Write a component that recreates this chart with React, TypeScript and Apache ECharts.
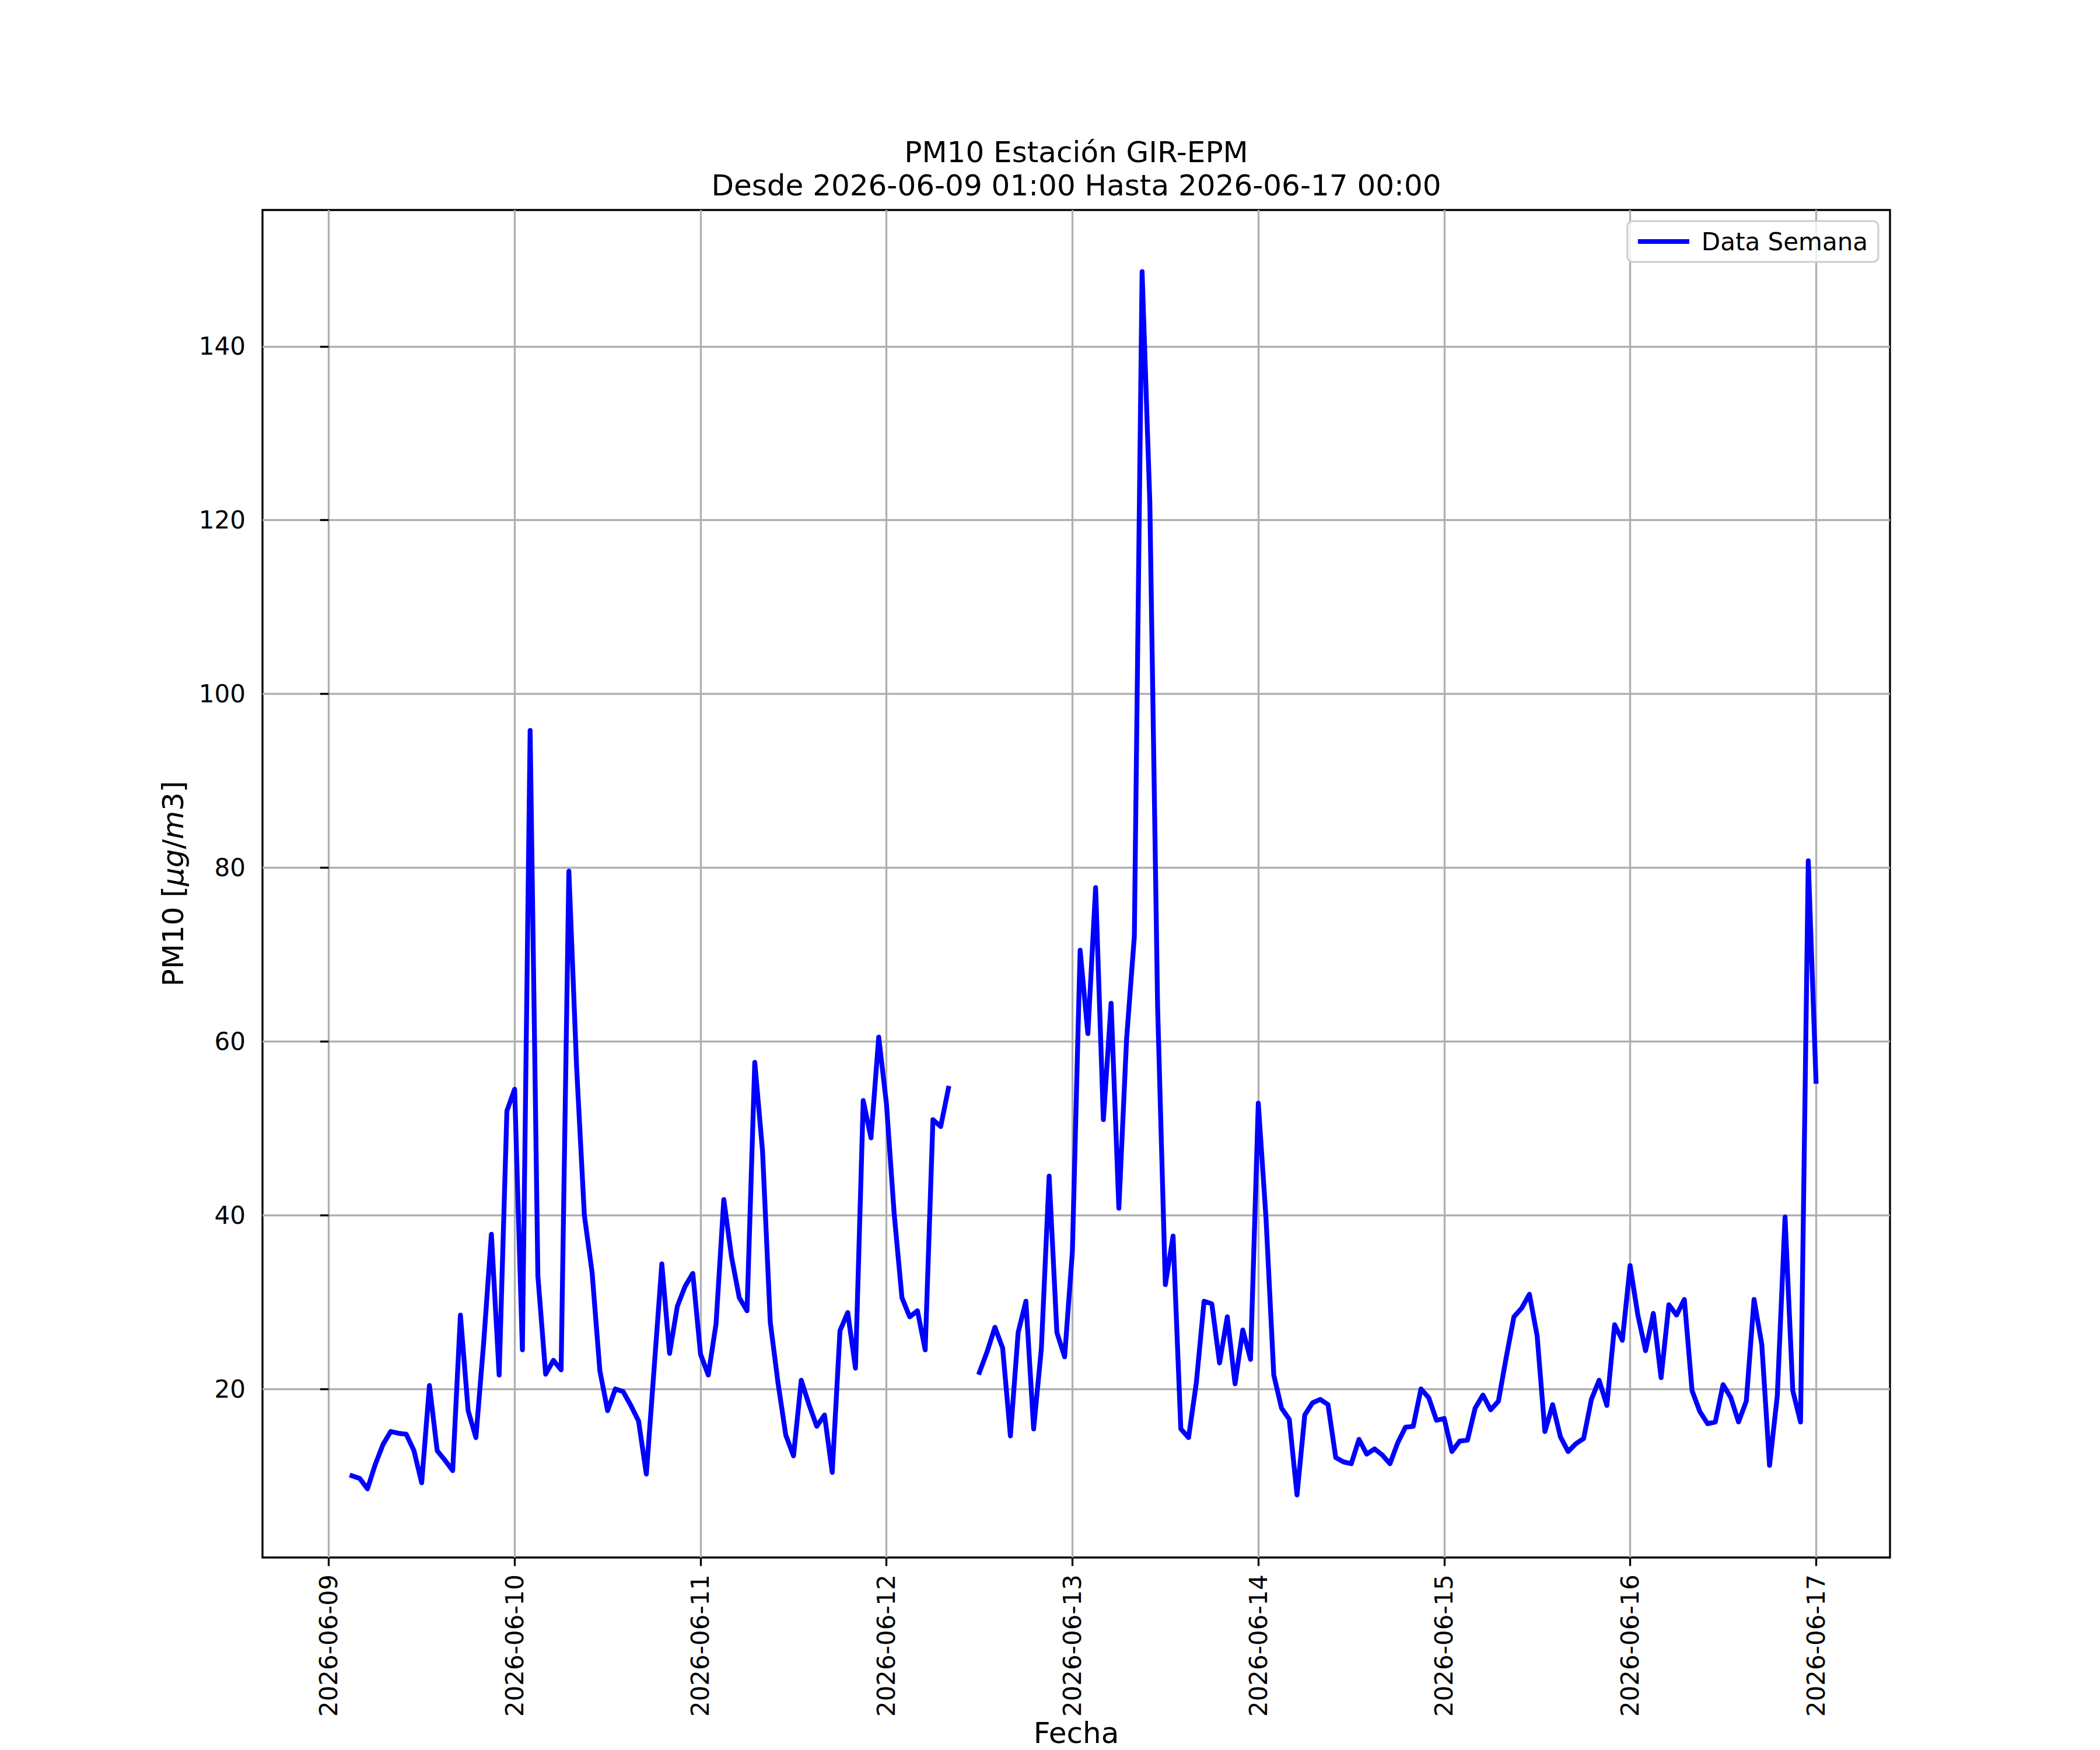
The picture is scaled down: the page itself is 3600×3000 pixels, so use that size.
import React, { useEffect, useRef } from "react";
import * as echarts from "echarts";

// Hourly PM10 values from 2026-06-09 01:00 to 2026-06-17 00:00 (null = missing)
const START_DATE = "2026-06-09";
const START_HOUR = 1;
const pm10Values: (number | null)[] = [
  // 2026-06-09 01:00 .. 23:00
  null, null, 10.0, 9.7, 8.5, 11.3, 13.6, 15.1, 14.9, 14.8, 12.9, 9.2, 20.4, 12.9, 11.8, 10.6, 28.5, 17.5, 14.4, 25.3, 37.8, 21.6, 52.0,
  // 2026-06-10
  54.5, 24.5, 95.8, 33.0, 21.7, 23.3, 22.2, 79.6, 57.0, 40.0, 33.4, 22.1, 17.5, 20.0, 19.7, 18.1, 16.3, 10.2, 22.3, 34.4, 24.1, 29.5, 31.8, 33.3,
  // 2026-06-11
  24.0, 21.6, 27.5, 41.8, 35.2, 30.5, 29.0, 57.6, 47.4, 27.7, 20.7, 14.7, 12.3, 21.0, 18.2, 15.7, 17.0, 10.4, 26.7, 28.8, 22.4, 53.2, 48.9, 60.5,
  // 2026-06-12
  52.8, 40.1, 30.5, 28.3, 29.0, 24.5, 51.0, 50.2, 54.6, null, null, null, 21.9, 24.3, 27.1, 24.7, 14.6, 26.5, 30.1, 15.4, 24.7, 44.5, 26.5, 23.7,
  // 2026-06-13
  35.8, 70.5, 60.9, 77.7, 51.0, 64.4, 40.8, 60.3, 72.1, 148.6, 122.0, 64.1, 32.0, 37.6, 15.4, 14.4, 20.7, 30.1, 29.8, 23.0, 28.3, 20.6, 26.8, 23.4,
  // 2026-06-14
  52.9, 39.6, 21.6, 17.8, 16.5, 7.8, 17.0, 18.4, 18.8, 18.2, 12.1, 11.6, 11.4, 14.2, 12.5, 13.1, 12.4, 11.4, 13.8, 15.6, 15.7, 20.0, 19.0, 16.4,
  // 2026-06-15
  16.6, 12.8, 14.0, 14.1, 17.8, 19.3, 17.6, 18.6, 23.6, 28.3, 29.3, 30.9, 26.1, 15.1, 18.2, 14.5, 12.8, 13.7, 14.3, 18.8, 21.0, 18.1, 27.4, 25.6,
  // 2026-06-16
  34.2, 28.5, 24.4, 28.7, 21.3, 29.7, 28.5, 30.3, 19.8, 17.4, 16.0, 16.2, 20.5, 19.0, 16.2, 18.6, 30.3, 25.1, 11.2, 19.2, 39.8, 19.8, 16.2, 80.8,
  // 2026-06-17 00:00
  55.4,
];

const dayTicks = [
  "2026-06-09", "2026-06-10", "2026-06-11", "2026-06-12", "2026-06-13",
  "2026-06-14", "2026-06-15", "2026-06-16", "2026-06-17",
];
const yTicks = [20, 40, 60, 80, 100, 120, 140];
const titleLines = ["PM10 Estación GIR-EPM", "Desde 2026-06-09 01:00 Hasta 2026-06-17 00:00"];
const seriesName = "Data Semana";
const xAxisLabel = "Fecha";

// x is expressed in hours since START_DATE 00:00
function dayToHours(s: string): number {
  const [y, m, d] = s.split("-").map(Number);
  const [y0, m0, d0] = START_DATE.split("-").map(Number);
  return Math.round((Date.UTC(y, m - 1, d) - Date.UTC(y0, m0 - 1, d0)) / 3600000);
}

export default function App() {
  const ref = useRef<HTMLDivElement>(null);

  useEffect(() => {
    document.body.style.margin = "0";
    if (!ref.current) return;
    const chart = echarts.init(ref.current, undefined, { renderer: "svg" });

    const data = pm10Values.map((v, i) => [START_HOUR + i, v]);
    const hEnd = START_HOUR + pm10Values.length - 1;
    const span = hEnd - START_HOUR;
    const xMin = START_HOUR - span * 0.05;
    const xMax = hEnd + span * 0.05;
    const tickHours = dayTicks.map((d) => dayToHours(d));
    const fmt = (v: number) => {
      let best = 0;
      let bd = Infinity;
      tickHours.forEach((t, i) => {
        const dd = Math.abs(t - v);
        if (dd < bd) { bd = dd; best = i; }
      });
      return dayTicks[best];
    };

    const font = "DejaVu Sans";
    const lw = 3.3;

    chart.setOption({
      animation: false,
      backgroundColor: "#ffffff",
      textStyle: { fontFamily: font },
      grid: {
        left: 450, right: 360, top: 360, bottom: 330,
        show: true, borderColor: "#000000", borderWidth: lw, backgroundColor: "transparent",
        containLabel: false,
      },
      legend: {
        show: true,
        data: [{ name: seriesName, icon: "rect" }],
        right: 380, top: 379,
        itemWidth: 88, itemHeight: 8,
        padding: [14, 18, 14, 18],
        backgroundColor: "rgba(255,255,255,0.8)",
        borderColor: "#cccccc", borderWidth: 3, borderRadius: 9,
        textStyle: { fontSize: 42, fontFamily: font, color: "#000000", padding: [0, 0, 0, 16] },
      },
      xAxis: {
        type: "value",
        min: xMin, max: xMax,
        axisLine: { show: false },
        axisTick: { show: true, customValues: tickHours, length: 14.6, lineStyle: { color: "#000000", width: lw } },
        axisLabel: {
          show: true, customValues: tickHours, rotate: 90, margin: 29,
          fontSize: 42, fontFamily: font, color: "#000000",
          formatter: (v: number) => fmt(v),
        },
        splitLine: { show: true, lineStyle: { color: "#b0b0b0", width: lw } },
      },
      yAxis: {
        type: "value",
        min: 0.6, max: 155.7,
        axisLine: { show: false },
        axisTick: { show: true, customValues: yTicks, length: 14.6, lineStyle: { color: "#000000", width: lw } },
        axisLabel: { show: true, customValues: yTicks, margin: 29, fontSize: 42, fontFamily: font, color: "#000000" },
        splitLine: { show: true, lineStyle: { color: "#b0b0b0", width: lw } },
      },
      series: [
        {
          name: seriesName,
          type: "line",
          data,
          showSymbol: false,
          symbol: "none",
          connectNulls: false,
          itemStyle: { color: "#0000ff" },
          lineStyle: { color: "#0000ff", width: 8.3, cap: "square", join: "round" },
          z: 5,
        },
      ],
      graphic: [
        {
          type: "text", x: 1845, y: 261,
          style: { text: titleLines[0], fontSize: 50, fontFamily: font, fill: "#000000", textAlign: "center", textVerticalAlign: "middle" },
        },
        {
          type: "text", x: 1845, y: 318,
          style: { text: titleLines[1], fontSize: 50, fontFamily: font, fill: "#000000", textAlign: "center", textVerticalAlign: "middle" },
        },
        {
          type: "text", x: 1845, y: 2971,
          style: { text: xAxisLabel, fontSize: 50, fontFamily: font, fill: "#000000", textAlign: "center", textVerticalAlign: "middle" },
        },
        {
          type: "text", x: 297, y: 1515, rotation: Math.PI / 2,
          style: {
            text: "PM10 [{i|μg}/{i|m}3]",
            fontSize: 50, fontFamily: font, fill: "#000000", textAlign: "center", textVerticalAlign: "middle",
            rich: {
              i: { fontSize: 50, fontFamily: font, fontStyle: "italic", fill: "#000000" },
            },
          },
        },
      ],
    });

    return () => chart.dispose();
  }, []);

  return <div ref={ref} style={{ width: 3600, height: 3000 }} />;
}
